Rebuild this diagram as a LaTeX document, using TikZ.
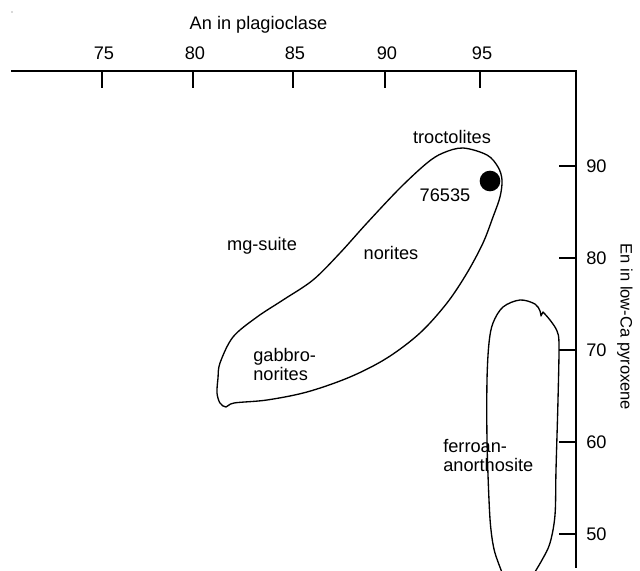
\documentclass[tikz,border=0pt]{standalone}
\usepackage{fontspec}
\setmainfont{Liberation Sans}
\begin{document}
\begin{tikzpicture}[x=0.75pt,y=-0.75pt,
  lbl/.style={font=\fontsize{13.65pt}{14.25pt}\selectfont, inner sep=0pt},
  axisline/.style={line width=1.1pt},
  blob/.style={line width=1pt, line join=round}]
\useasboundingbox (0,0) rectangle (640,571);
\fill[gray!60] (12,12) circle (0.8);
% axes
\coordinate (hl) at (11,71);
\coordinate (corner) at (576,71);
\coordinate (vb) at (576,568);
\draw[axisline] (hl) -- (corner) -- (vb);
\foreach \v/\x in {75/102,80/193,85/293,90/385,95/480}{
  \draw[axisline] (\x,71) -- (\x,88);
  \node[lbl,anchor=base] (tx\v) at (\x+2,59) {\v};
}
\foreach \v/\y in {90/166,80/258,70/350,60/442,50/534}{
  \draw[axisline] (559,\y) -- (576,\y);
  \node[lbl,anchor=base west] (ty\v) at (586,\y+6.5) {\v};
}
\node[lbl,anchor=base] (xtitle) at (258.5,30) {An in plagioclase};
\node[lbl,font=\fontsize{12.4pt}{14pt}\selectfont,rotate=-90] (ytitle) at (625,327) {En in low-Ca pyroxene};
% mg-suite field
\draw[blob] plot[smooth cycle, tension=0.55] coordinates {
 (463,148) (487,155) (498,167) (502,180) (500,197) (493,217) (483,243)
 (467,273) (447,303) (420,333) (387,358) (350,377) (307,392) (267,400)
 (234,403) (226,407) (220,403) (217,393) (218,378) (220,363) (233,337)
 (257,317) (283,300) (313,280) (340,253) (367,223) (400,188) (427,163)
 (443,153)};
% ferroan anorthosite field
\begin{scope}
\clip (0,0) rectangle (640,571);
\draw[blob] plot[smooth, tension=0.55] coordinates {
 (505,580) (495,553) (491,530) (489,500) (487,440) (487,380) (489,343)
 (493,323) (503,307) (520,300) (535,304) (540,311) (541,316)}
 -- plot[smooth, tension=0.55] coordinates {
 (543,312) (550,320) (557,331) (559,345) (558,400) (556,470) (555,515)
 (550,543) (542,560) (530,580)};
\end{scope}
\node[circle,fill,inner sep=0pt,minimum size=15.5] (s76535) at (490,181) {};
\node[lbl,anchor=base] (troct) at (452,143) {troctolites};
\node[lbl,anchor=base] (num) at (445,201) {76535};
\node[lbl,anchor=base] (mgs) at (262,250) {mg-suite};
\node[lbl,anchor=base] (nor) at (391,259) {norites};
\node[lbl,anchor=north west,align=left] (gab) at (253,348) {gabbro-\\norites};
\node[lbl,anchor=north west,align=left] (fan) at (443,439) {ferroan-\\anorthosite};
\end{tikzpicture}
\end{document}
